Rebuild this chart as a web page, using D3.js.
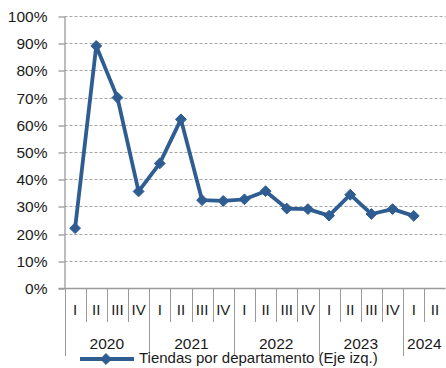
<!DOCTYPE html>
<html>
<head>
<meta charset="utf-8">
<script src="https://cdn.jsdelivr.net/npm/d3@7"></script>
<style>
  html, body { margin: 0; padding: 0; background: #fff; }
  svg { display: block; font-family: "Liberation Sans", Arial, sans-serif; }
</style>
</head>
<body>
<svg id="chart" width="446" height="368"></svg>
<script>
(function () {
// Quarterly categories and their years
const years = ["2020", "2021", "2022", "2023", "2024"];
const quarters = ["I", "II", "III", "IV", "I", "II", "III", "IV", "I", "II", "III", "IV", "I", "II", "III", "IV", "I", "II"];
const yearOfQuarter = [0, 0, 0, 0, 1, 1, 1, 1, 2, 2, 2, 2, 3, 3, 3, 3, 4, 4];
// Tiendas por departamento (share, %), null where not yet available
const tiendas = [22, 89, 70, 35.5, 45.8, 62, 32.3, 32, 32.6, 35.6, 29.2, 29, 26.6, 34.3, 27.2, 29, 26.5, null];
const yTicks = [0, 10, 20, 30, 40, 50, 60, 70, 80, 90, 100];
const seriesName = "Tiendas por departamento (Eje izq.)";

const svg = d3.select("#chart");
const mLeft = 64.5, mRight = 445.5, mTop = 16, mBottom = 288;
const axisColor = "#9a9a9a";
const lineColor = "#2f5d92";

const idx = d3.range(quarters.length);
const x = d3.scaleBand().domain(idx).range([mLeft, mRight]).padding(0);
const y = d3.scaleLinear().domain([0, 100]).range([mBottom, mTop]);

// Horizontal dashed gridlines
svg.append("g").selectAll("line").data(yTicks.filter(d => d > 0)).join("line")
  .attr("x1", mLeft).attr("x2", mRight)
  .attr("y1", d => Math.round(y(d)) + 0.5).attr("y2", d => Math.round(y(d)) + 0.5)
  .attr("stroke", "#a6a6a6").attr("stroke-width", 1).attr("stroke-dasharray", "3,2");

// Left axis with percent labels
const yAxis = svg.append("g").attr("transform", `translate(${mLeft},0)`)
  .call(d3.axisLeft(y).tickValues(yTicks).tickFormat(d => d + "%").tickSize(6).tickSizeOuter(0));
yAxis.select(".domain").attr("stroke", axisColor).attr("stroke-width", 1.3);
yAxis.selectAll(".tick line").attr("stroke", axisColor).attr("stroke-width", 1.3)
  .attr("transform", (d) => `translate(0,${Math.round(y(d)) + 0.5 - y(d)})`);
yAxis.selectAll(".tick text").attr("x", -17).attr("dy", "0.35em")
  .attr("fill", "#1a1a1a").attr("font-size", 15.5)
  .attr("font-family", "'Liberation Sans', Arial, sans-serif");

// Bottom baseline and category dividers
const g = svg.append("g");
g.append("line").attr("x1", mLeft - 6).attr("x2", mRight)
  .attr("y1", mBottom + 0.5).attr("y2", mBottom + 0.5)
  .attr("stroke", axisColor).attr("stroke-width", 1.3);

const boundaries = d3.range(quarters.length + 1);
g.selectAll("line.div").data(boundaries).join("line").attr("class", "div")
  .attr("x1", i => Math.round(mLeft + i * x.step()) + 0.5)
  .attr("x2", i => Math.round(mLeft + i * x.step()) + 0.5)
  .attr("y1", mBottom)
  .attr("y2", i => (i % 4 === 0 || i === quarters.length) ? 356 : 322)
  .attr("stroke", axisColor).attr("stroke-width", 1);

// Quarter labels
g.selectAll("text.q").data(idx).join("text").attr("class", "q")
  .attr("x", i => x(i) + x.bandwidth() / 2).attr("y", 311)
  .attr("text-anchor", "middle").attr("dominant-baseline", "middle")
  .attr("font-size", 15).attr("fill", "#1a1a1a")
  .text(i => quarters[i]);

// Year labels centred under their quarters
g.selectAll("text.yr").data(years).join("text").attr("class", "yr")
  .attr("x", (d, k) => {
    const qs = idx.filter(i => yearOfQuarter[i] === k);
    return (x(qs[0]) + x(qs[qs.length - 1]) + x.bandwidth()) / 2;
  })
  .attr("y", 345).attr("text-anchor", "middle").attr("dominant-baseline", "middle")
  .attr("font-size", 15.5).attr("fill", "#1a1a1a")
  .text(d => d);

// Series line
const pts = idx.filter(i => tiendas[i] != null);
const line = d3.line().x(i => x(i) + x.bandwidth() / 2).y(i => y(tiendas[i]));
svg.append("path").datum(pts).attr("d", line)
  .attr("fill", "none").attr("stroke", lineColor).attr("stroke-width", 3.8)
  .attr("stroke-linejoin", "round");

// Diamond markers
const diamond = d3.symbol().type(d3.symbolDiamond2).size(75);
svg.append("g").selectAll("path").data(pts).join("path")
  .attr("d", diamond)
  .attr("transform", i => `translate(${x(i) + x.bandwidth() / 2},${y(tiendas[i])})`)
  .attr("fill", lineColor).attr("stroke", lineColor).attr("stroke-width", 1);

// Legend
const lg = svg.append("g");
lg.append("line").attr("x1", 80).attr("x2", 134).attr("y1", 359).attr("y2", 359)
  .attr("stroke", lineColor).attr("stroke-width", 3.8);
lg.append("path").attr("d", diamond)
  .attr("transform", "translate(106,359)")
  .attr("fill", lineColor).attr("stroke", lineColor).attr("stroke-width", 1);
lg.append("text").attr("x", 139).attr("y", 359).attr("dominant-baseline", "middle")
  .attr("font-size", 15).attr("fill", "#1a1a1a").text(seriesName);
})();
</script>
</body>
</html>
